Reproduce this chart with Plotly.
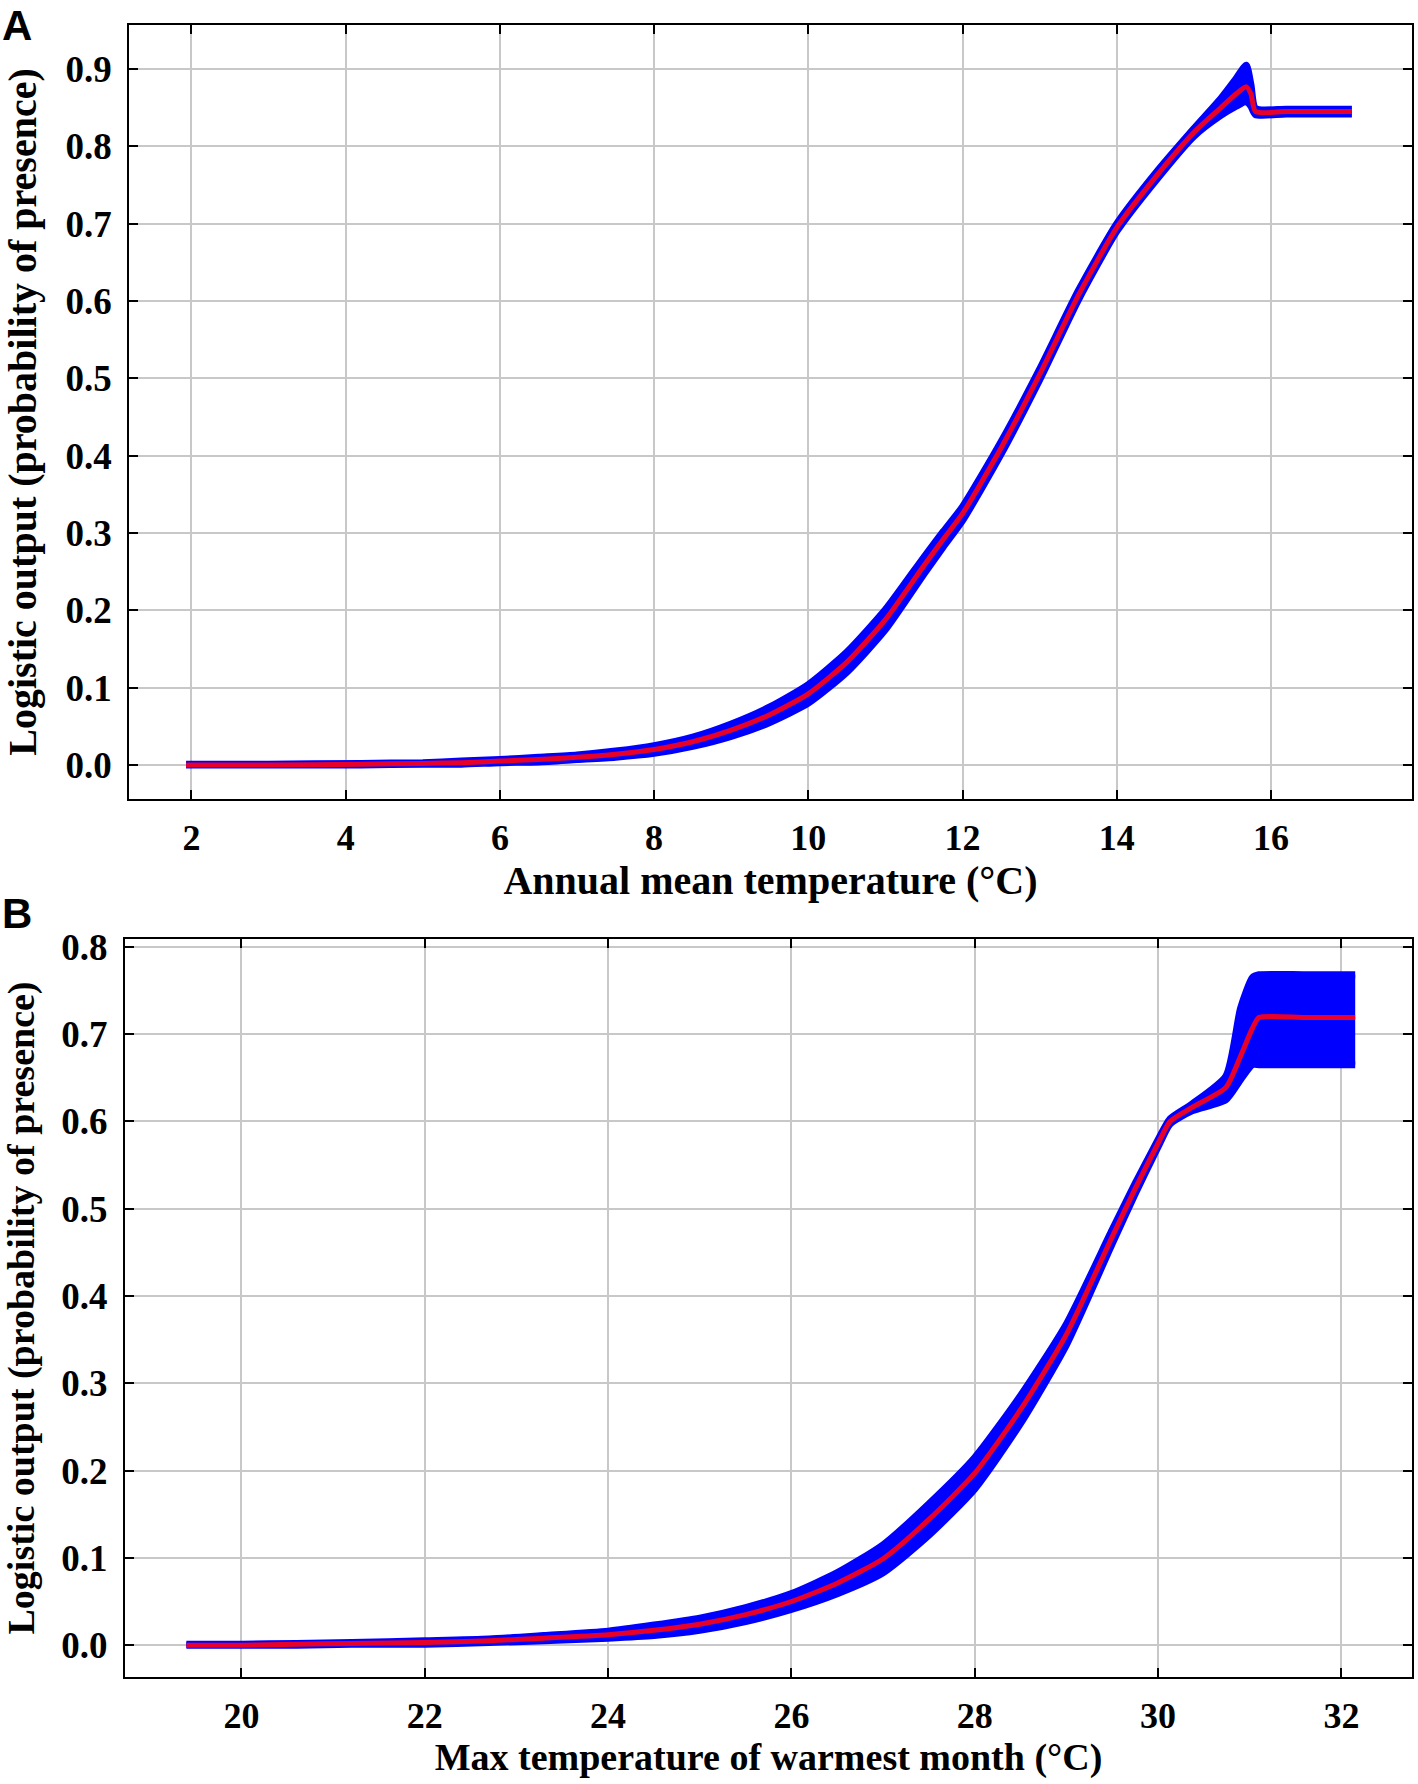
import plotly.graph_objects as go

# ---------------- Panel A: Annual mean temperature ----------------
a_temp = [1.93, 3.0, 4.2, 5.0, 5.5, 6.0, 6.5, 7.0, 7.5, 8.0, 8.5, 9.0, 9.5, 10.0,
          10.5, 11.0, 11.5, 11.75, 12.0, 12.5, 13.0, 13.5, 14.0, 14.5, 15.0, 15.35,
          15.55, 15.68, 15.74, 15.8, 16.2, 17.05]
a_mean = [0.000, 0.000, 0.001, 0.002, 0.003, 0.005, 0.007, 0.010, 0.014, 0.020,
          0.030, 0.045, 0.065, 0.092, 0.133, 0.188, 0.258, 0.292, 0.325, 0.410,
          0.505, 0.607, 0.695, 0.760, 0.818, 0.850, 0.868, 0.877, 0.868, 0.845,
          0.845, 0.845]
a_upper = [0.001, 0.001, 0.002, 0.003, 0.005, 0.007, 0.010, 0.013, 0.018, 0.025,
           0.036, 0.053, 0.075, 0.104, 0.146, 0.201, 0.269, 0.302, 0.334, 0.418,
           0.512, 0.613, 0.700, 0.765, 0.823, 0.862, 0.888, 0.905, 0.880, 0.849,
           0.848, 0.848]
a_lower = [0.000, 0.000, 0.000, 0.001, 0.001, 0.003, 0.004, 0.007, 0.010, 0.015,
           0.024, 0.037, 0.055, 0.080, 0.120, 0.175, 0.247, 0.282, 0.316, 0.402,
           0.498, 0.601, 0.690, 0.755, 0.813, 0.840, 0.852, 0.858, 0.852, 0.841,
           0.842, 0.842]

# ---------------- Panel B: Max temperature of warmest month ----------------
b_temp = [19.4, 20.0, 20.6, 21.2, 22.0, 22.7, 23.3, 24.0, 24.5, 25.0, 25.5, 26.0,
          26.5, 27.0, 27.5, 28.0, 28.5, 29.0, 29.5, 29.75, 30.0, 30.13, 30.37,
          30.74, 30.9, 31.03, 31.1, 31.6, 32.15]
b_mean = [0.000, 0.000, 0.001, 0.002, 0.003, 0.005, 0.008, 0.012, 0.017, 0.024,
          0.035, 0.050, 0.071, 0.099, 0.144, 0.197, 0.270, 0.356, 0.468, 0.523,
          0.575, 0.600, 0.616, 0.639, 0.675, 0.707, 0.719, 0.719, 0.719]
b_upper = [0.001, 0.001, 0.002, 0.003, 0.005, 0.007, 0.011, 0.016, 0.023, 0.031,
           0.043, 0.059, 0.083, 0.115, 0.162, 0.215, 0.286, 0.368, 0.476, 0.529,
           0.579, 0.603, 0.620, 0.652, 0.730, 0.765, 0.768, 0.768, 0.768]
b_lower = [0.000, 0.000, 0.000, 0.001, 0.001, 0.003, 0.005, 0.008, 0.011, 0.017,
           0.027, 0.041, 0.059, 0.083, 0.126, 0.179, 0.254, 0.344, 0.460, 0.517,
           0.571, 0.597, 0.612, 0.625, 0.648, 0.665, 0.665, 0.665, 0.665]

a_xticks = [2, 4, 6, 8, 10, 12, 14, 16]
a_yticks = [0.0, 0.1, 0.2, 0.3, 0.4, 0.5, 0.6, 0.7, 0.8, 0.9]
b_xticks = [20, 22, 24, 26, 28, 30, 32]
b_yticks = [0.0, 0.1, 0.2, 0.3, 0.4, 0.5, 0.6, 0.7, 0.8]

BLUE = "#0000ff"
RED = "rgb(232,0,40)"
SERIF = "Liberation Serif"

fig = go.Figure()


def add_panel(x, mean, upper, lower, xa, ya):
    fig.add_trace(go.Scatter(x=x, y=upper, xaxis=xa, yaxis=ya, mode="lines",
                             line=dict(color=BLUE, width=7, shape="spline", smoothing=0.6),
                             showlegend=False, hoverinfo="skip"))
    fig.add_trace(go.Scatter(x=x, y=lower, xaxis=xa, yaxis=ya, mode="lines",
                             line=dict(color=BLUE, width=7, shape="spline", smoothing=0.6),
                             fill="tonexty", fillcolor=BLUE, showlegend=False,
                             hoverinfo="skip"))
    fig.add_trace(go.Scatter(x=x, y=mean, xaxis=xa, yaxis=ya, mode="lines",
                             line=dict(color=RED, width=5, shape="spline", smoothing=0.6),
                             showlegend=False))


add_panel(a_temp, a_mean, a_upper, a_lower, "x", "y")
add_panel(b_temp, b_mean, b_upper, b_lower, "x2", "y2")

common = dict(
    showline=True, linecolor="black", linewidth=2, mirror="allticks",
    ticks="inside", ticklen=9, tickwidth=2, tickcolor="black",
    showgrid=True, gridcolor="rgb(200,200,200)", gridwidth=2,
    zeroline=False, automargin=False,
)

fig.update_layout(
    width=1418, height=1784,
    margin=dict(l=0, r=0, t=0, b=0),
    paper_bgcolor="white", plot_bgcolor="white",
    font=dict(family=SERIF, color="black"),
    xaxis=dict(domain=[0.0910, 0.9958], range=[1.19, 17.83], tickvals=a_xticks,
               ticktext=[str(v) for v in a_xticks], anchor="y",
               tickfont=dict(family=SERIF, size=36, weight="bold"),
               ticklabelstandoff=6,
               title=dict(text="<b>Annual mean temperature (°C)</b>",
                          font=dict(family=SERIF, size=40), standoff=6),
               **common),
    yaxis=dict(domain=[0.55213, 0.98599], range=[-0.044, 0.957], tickvals=a_yticks,
               ticktext=[f"{v:.1f}" for v in a_yticks], anchor="x",
               tickfont=dict(family=SERIF, size=37, weight="bold"),
               ticklabelstandoff=8,
               title=dict(text="<b>Logistic output (probability of presence)</b>",
                          font=dict(family=SERIF, size=40), standoff=18),
               **common),
    xaxis2=dict(domain=[0.08815, 0.9958], range=[18.73, 32.77], tickvals=b_xticks,
                ticktext=[str(v) for v in b_xticks], anchor="y2",
                tickfont=dict(family=SERIF, size=36, weight="bold"),
                ticklabelstandoff=6,
                title=dict(text="<b>Max temperature of warmest month (°C)</b>",
                           font=dict(family=SERIF, size=38), standoff=6),
                **common),
    yaxis2=dict(domain=[0.05998, 0.47366], range=[-0.0365, 0.809], tickvals=b_yticks,
                ticktext=[f"{v:.1f}" for v in b_yticks], anchor="x2",
                tickfont=dict(family=SERIF, size=37, weight="bold"),
                ticklabelstandoff=8,
                title=dict(text="<b>Logistic output (probability of presence)</b>",
                           font=dict(family=SERIF, size=38), standoff=18),
                **common),
    annotations=[
        dict(text="<b>A</b>", x=0.0, y=1.0, xref="paper", yref="paper",
             xanchor="left", yanchor="top", showarrow=False,
             font=dict(family="Liberation Sans", size=42, color="black")),
        dict(text="<b>B</b>", x=0.0, y=1 - 888 / 1784, xref="paper", yref="paper",
             xanchor="left", yanchor="top", showarrow=False,
             font=dict(family="Liberation Sans", size=42, color="black")),
    ],
)

fig.write_html("out.html", config={"displayModeBar": False},
               post_script="document.body.style.margin='0px';document.body.style.overflow='hidden';")
